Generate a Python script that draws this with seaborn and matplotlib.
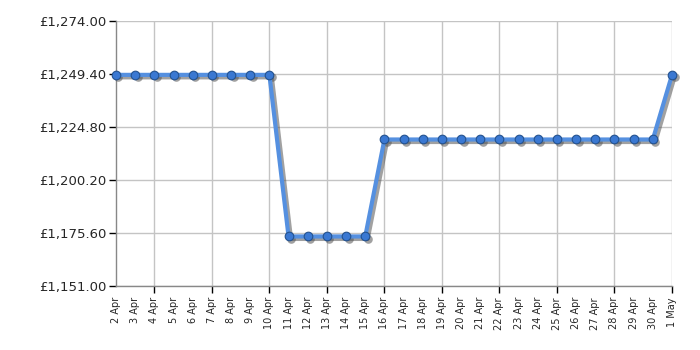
import matplotlib
matplotlib.use("Agg")
import matplotlib.pyplot as plt
import matplotlib.transforms as mtransforms
import seaborn as sns
import pandas as pd

dates = ["2 Apr", "3 Apr", "4 Apr", "5 Apr", "6 Apr", "7 Apr", "8 Apr", "9 Apr", "10 Apr",
         "11 Apr", "12 Apr", "13 Apr", "14 Apr", "15 Apr", "16 Apr", "17 Apr", "18 Apr",
         "19 Apr", "20 Apr", "21 Apr", "22 Apr", "23 Apr", "24 Apr", "25 Apr", "26 Apr",
         "27 Apr", "28 Apr", "29 Apr", "30 Apr", "1 May"]
prices = [1249.0] * 9 + [1174.0] * 5 + [1219.0] * 15 + [1249.0]
yticks = [1151.00, 1175.60, 1200.20, 1224.80, 1249.40, 1274.00]

df = pd.DataFrame({"idx": range(len(dates)), "price": prices})

sns.set_style("white")
plt.rcParams["font.family"] = ["DejaVu Sans"]

fig = plt.figure(figsize=(7, 3.5), dpi=100)
ax = fig.add_axes([116 / 700, (350 - 286) / 350, (672 - 116) / 700, (286 - 21) / 350])

# shadow
sns.lineplot(data=df, x="idx", y="price", ax=ax, color="#555555", alpha=0.55, linewidth=3,
             marker="o", markersize=6.2, markerfacecolor="#555555", markeredgewidth=0,
             clip_on=False, zorder=4)
shadow = ax.lines[-1]
shadow.set_transform(ax.transData + mtransforms.ScaledTranslation(1.8 / 72, -1.8 / 72, fig.dpi_scale_trans))

# main line
sns.lineplot(data=df, x="idx", y="price", ax=ax, color="#5590e0", linewidth=3,
             marker="o", markersize=6.2, markerfacecolor="#3a78d2",
             markeredgecolor="#24528f", markeredgewidth=0.8, clip_on=False, zorder=5)

ax.set_xlim(0, len(dates) - 1)
ax.set_ylim(yticks[0], yticks[-1])
ax.set_yticks(yticks)
ax.set_yticklabels([f"£{v:,.2f}" for v in yticks], fontsize=9.5)

major = list(range(2, len(dates), 3))
minor = [i for i in range(len(dates)) if i not in major]
ax.set_xticks(major)
ax.set_xticklabels([dates[i] for i in major], rotation=90, fontsize=7)
ax.set_xticks(minor, minor=True)
ax.set_xticklabels([dates[i] for i in minor], minor=True, rotation=90, fontsize=7)
ax.tick_params(axis="x", which="major", length=5, width=1, color="black", pad=3, bottom=True)
ax.tick_params(axis="x", which="minor", length=0, pad=8, bottom=True)
ax.tick_params(axis="y", length=5, width=1, color="black", left=True, pad=2)

ax.grid(True, which="major", color="#c4c4c4", linewidth=1)
ax.set_xlabel("")
ax.set_ylabel("")
for s in ["top", "right"]:
    ax.spines[s].set_visible(False)
for s in ["left", "bottom"]:
    ax.spines[s].set_color("#888888")
    ax.spines[s].set_linewidth(1)

fig.savefig("out.png", dpi=100)
